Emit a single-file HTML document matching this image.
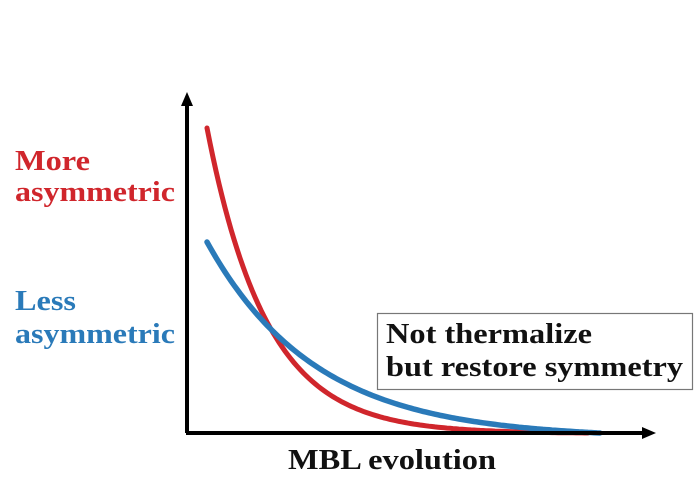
<!DOCTYPE html>
<html><head><meta charset="utf-8"><style>
html,body{margin:0;padding:0;background:#fff;}
svg{display:block;}
text{font-family:"Liberation Serif",serif;font-weight:bold;}
</style></head><body>
<svg id="s" width="700" height="493" viewBox="0 0 700 493" xmlns="http://www.w3.org/2000/svg">
<rect width="700" height="493" fill="#fff"/>
<polyline id="red" fill="none" stroke="#d0262c" stroke-width="5" stroke-linecap="round"/>
<polyline id="blue" fill="none" stroke="#2a7ab9" stroke-width="5.5" stroke-linecap="round"/>
<line x1="187" y1="433" x2="187" y2="100" stroke="#000" stroke-width="4"/>
<polygon points="187,92 181,106 193,106" fill="#000"/>
<line x1="186" y1="433" x2="645" y2="433" stroke="#000" stroke-width="4"/>
<polygon points="656,433 642,427 642,439" fill="#000"/>
<rect x="377.5" y="313.5" width="315" height="76" fill="#fff" stroke="#777" stroke-width="1.2"/>
<text x="386" y="343" font-size="28" fill="#111" textLength="206" lengthAdjust="spacingAndGlyphs">Not thermalize</text>
<text x="386" y="376" font-size="28" fill="#111" textLength="297" lengthAdjust="spacingAndGlyphs">but restore symmetry</text>
<text x="15" y="170" font-size="28" fill="#d0262c" textLength="75" lengthAdjust="spacingAndGlyphs">More</text>
<text x="15" y="201" font-size="28" fill="#d0262c" textLength="160" lengthAdjust="spacingAndGlyphs">asymmetric</text>
<text x="15" y="310" font-size="28" fill="#2a7ab9" textLength="61" lengthAdjust="spacingAndGlyphs">Less</text>
<text x="15" y="343" font-size="28" fill="#2a7ab9" textLength="160" lengthAdjust="spacingAndGlyphs">asymmetric</text>
<text x="288" y="469" font-size="28" fill="#111" textLength="208" lengthAdjust="spacingAndGlyphs">MBL evolution</text>
</svg>
<script>
function pts(a,k,x1){var T=x1-207,e=Math.exp(-k*T),p=[];for(var x=207;x<=x1;x+=3){var v=(Math.exp(-k*(x-207))-e)/(1-e);p.push(x+","+(433-a*v).toFixed(1));}return p.join(" ");}
document.getElementById("red").setAttribute("points",pts(305,0.0168,590));
document.getElementById("blue").setAttribute("points",pts(191,0.0092,600));
</script>
</body></html>
